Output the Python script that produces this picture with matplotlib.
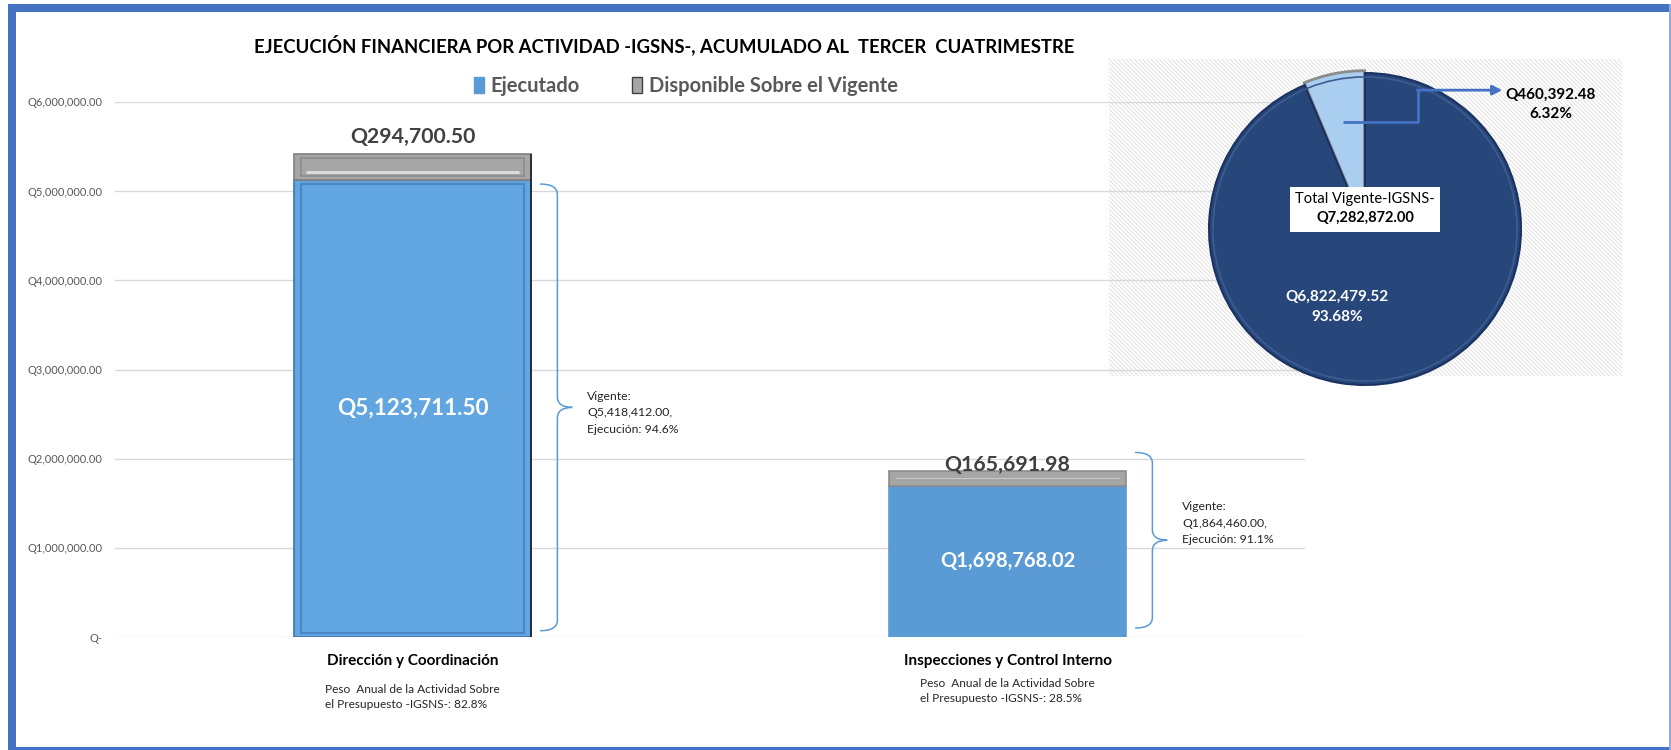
import matplotlib
matplotlib.use('Agg')
import matplotlib.pyplot as plt
import matplotlib.patches as mpatches
from matplotlib.path import Path
from matplotlib.ticker import FuncFormatter
import matplotlib.transforms as mtransforms
import numpy as np

plt.rcParams['font.family'] = ['Lato', 'DejaVu Sans']
plt.rcParams['hatch.linewidth'] = 0.5

# data
categories = ['Dirección y Coordinación', 'Inspecciones y Control Interno']
ejecutado = [5123711.50, 1698768.02]
disponible = [294700.50, 165691.98]
peso_anual = ['82.8%', '28.5%']
y_ticks = [0, 1e6, 2e6, 3e6, 4e6, 5e6, 6e6]
# extent of the braces next to each bar, as drawn in the original
brace_top = [5.08e6, 2.07e6]
brace_bottom = [0.07e6, 0.10e6]

vigente = np.array(ejecutado) + np.array(disponible)
pie_values = [sum(disponible), sum(ejecutado)]
total_vigente = sum(pie_values)

W, H = 1671, 750
fig = plt.figure(figsize=(W / 100, H / 100), dpi=100)
fig.patch.set_facecolor('white')


def fx(px):
    return px / W


def fy(py):
    return 1 - py / H


def money(v):
    return 'Q{:,.2f}'.format(v)


# blue frame around the whole chart
blue = '#4472C4'
fig.add_artist(mpatches.Rectangle((fx(8), 0), fx(16) - fx(8), fy(4), transform=fig.transFigure,
                                  facecolor=blue, lw=0))
fig.add_artist(mpatches.Rectangle((fx(8), fy(12)), 1 - fx(8), fy(4) - fy(12), transform=fig.transFigure,
                                  facecolor=blue, lw=0))
fig.add_artist(mpatches.Rectangle((fx(8), 0), 1 - fx(8), fy(747), transform=fig.transFigure,
                                  facecolor=blue, lw=0))
fig.add_artist(mpatches.Rectangle((fx(1669), 0), 1 - fx(1669), fy(4), transform=fig.transFigure,
                                  facecolor='#8EA9DB', lw=0))

# ---- bar chart ----
ax = fig.add_axes([fx(115), fy(637), fx(1305) - fx(115), fy(102) - fy(637)])
ax.set_facecolor('none')
x = np.arange(len(categories))
bw = 0.397

bars_e = ax.bar(x, ejecutado, bw, color=['#62A6E1', '#5B9BD5'],
                edgecolor=['#3E74AE', '#5B9BD5'], linewidth=1.2, zorder=3)
bars_d = ax.bar(x, disponible, bw, bottom=ejecutado, color='#A6A6A6',
                edgecolor=['#7F7F7F', '#8C8C8C'], linewidth=1.2, zorder=3)

# bevel look on the first bar
ax.bar(x[0], ejecutado[0] - 0.08e6, bw * 0.94, bottom=0.04e6, fill=False,
       edgecolor='#4A86C4', linewidth=1.5, zorder=4)
ax.bar(x[0], disponible[0] - 0.09e6, bw * 0.94, bottom=ejecutado[0] + 0.045e6, fill=False,
       edgecolor='#8C8C8C', linewidth=1.2, zorder=4)
ax.hlines(ejecutado[0] + 0.09e6, x[0] - bw * 0.45, x[0] + bw * 0.45, color='#E0E0E0', lw=2, zorder=5)
ax.vlines(x[0] + bw / 2, 0, vigente[0], color='#1F1F1F', lw=1.2, zorder=5)
ax.hlines(ejecutado[1] + disponible[1] / 2, x[1] - bw * 0.47, x[1] + bw * 0.47, color='#C9C9C9', lw=0.8, zorder=5)

ax.set_xlim(-0.5, 1.5)
ax.set_ylim(0, 6e6)
ax.set_yticks(y_ticks)
ax.yaxis.set_major_formatter(FuncFormatter(lambda v, p: 'Q-' if v == 0 else money(v)))
ax.grid(axis='y', color='#D9D9D9', lw=1, zorder=0)
for s in ax.spines.values():
    s.set_visible(False)
ax.tick_params(axis='y', length=0, pad=9, labelsize=8, labelcolor='#595959')
ax.set_xticks(x)
ax.set_xticklabels(categories, fontsize=11, fontweight='bold', color='black')
ax.tick_params(axis='x', length=0, pad=12)

# value labels
inner_sizes = [16.2, 14.5]
for i in range(len(categories)):
    ax.text(x[i], ejecutado[i] / 2, money(ejecutado[i]), ha='center', va='center',
            color='white', fontsize=inner_sizes[i], fontweight='bold', zorder=6)
    ax.annotate(money(disponible[i]), (x[i], vigente[i]), xytext=(0, [5, -3][i]),
                textcoords='offset points', ha='center', va='bottom',
                color='#404040', fontsize=15.3, fontweight='bold', zorder=6)

# braces with vigente / ejecucion text
text_dy = [-0.06e6, 0.19e6]
for i in range(len(categories)):
    edge = x[i] + bw / 2
    xe, xv, xt = edge + 0.016, edge + 0.045, edge + 0.07
    top, bot = brace_top[i], brace_bottom[i]
    mid = (top + bot) / 2
    d = 0.12e6
    verts = [(xe, top), (xv, top), (xv, top - d),
             (xv, mid + d), (xv, mid), (xt, mid),
             (xv, mid), (xv, mid - d),
             (xv, bot + d), (xv, bot), (xe, bot)]
    codes = [Path.MOVETO, Path.CURVE3, Path.CURVE3,
             Path.LINETO, Path.CURVE3, Path.CURVE3,
             Path.CURVE3, Path.CURVE3,
             Path.LINETO, Path.CURVE3, Path.CURVE3]
    ax.add_patch(mpatches.PathPatch(Path(verts, codes), fill=False, edgecolor='#5B9BD5', lw=1.1, zorder=3))
    pct = ejecutado[i] / vigente[i] * 100
    ax.text(edge + 0.095, mid + text_dy[i], 'Vigente:\n{},\nEjecución: {:.1f}%'.format(money(vigente[i]), pct),
            ha='left', va='center', fontsize=8.8, color='#262626', linespacing=1.6)

# peso anual text under the category names
trans = mtransforms.blended_transform_factory(ax.transData, fig.transFigure)
for i, py in enumerate([697, 691]):
    ax.text(x[i], fy(py), 'Peso  Anual de la Actividad Sobre\nel Presupuesto -IGSNS-: {}'.format(peso_anual[i]),
            transform=trans, ha='center', va='center', multialignment='left',
            fontsize=8.6, color='#262626', linespacing=1.55)

# title and legend
fig.text(fx(664), fy(45), 'EJECUCIÓN FINANCIERA POR ACTIVIDAD -IGSNS-, ACUMULADO AL  TERCER  CUATRIMESTRE',
         ha='center', va='center', fontsize=13.3, fontweight='bold', color='black')
handles = [mpatches.Patch(facecolor='#5B9BD5', edgecolor='#5B9BD5'),
           mpatches.Patch(facecolor='#A6A6A6', edgecolor='#404040')]
leg = fig.legend(handles, ['Ejecutado', 'Disponible Sobre el Vigente'], loc='center',
                 bbox_to_anchor=(fx(686), fy(86)), ncol=2, frameon=False,
                 handlelength=0.5, handleheight=0.9, handletextpad=0.35, columnspacing=2.6,
                 prop={'size': 14.5, 'weight': 'bold'})
for t in leg.get_texts():
    t.set_color('#595959')

# ---- pie chart ----
fig.add_artist(mpatches.Rectangle((fx(1109), fy(376)), fx(1622) - fx(1109), fy(59) - fy(376),
                                  transform=fig.transFigure, facecolor='white', edgecolor='#D6D6D6',
                                  hatch='\\\\\\\\\\\\\\\\', lw=0, zorder=0))
cx, cy, r = 1365, 229, 156
half = r * 1.05
ax2 = fig.add_axes([fx(cx - half), fy(cy + half), 2 * half / W, 2 * half / H])
ax2.set_facecolor('none')
wedges, _ = ax2.pie(pie_values, colors=['#A9CEF0', '#27467A'], startangle=90, counterclock=True,
                    explode=[0.015, 0], wedgeprops=dict(linewidth=1.5))
wedges[0].set_edgecolor('#8C8C8C')
wedges[0].set_linewidth(2)
wedges[1].set_edgecolor('#1B3260')
ax2.add_patch(mpatches.Circle((0, 0), 0.975, fill=False, edgecolor='#3D5C91', lw=1.2))
ax2.set_xlim(-1.05, 1.05)
ax2.set_ylim(-1.05, 1.05)
ax2.set_aspect('equal')
ax2.axis('off')

pcts = [v / total_vigente * 100 for v in pie_values]
ang = np.deg2rad(90 + pcts[0] * 3.6 / 2)
sx, sy = 0.7 * np.cos(ang), 0.7 * np.sin(ang)
ax2.plot([sx, 0.34, 0.34], [sy, sy, 0.89], color=blue, lw=2, solid_capstyle='butt')
ax2.annotate('', xy=(0.88, 0.89), xytext=(0.335, 0.89),
             arrowprops=dict(arrowstyle='-|>', color=blue, lw=2, mutation_scale=14, shrinkA=0, shrinkB=0))
ax2.text(1.19, 0.80, '{}\n{:.2f}%'.format(money(pie_values[0]), pcts[0]), ha='center', va='center',
         fontsize=11, fontweight='bold', color='black', linespacing=1.5)
ax2.text(-0.18, -0.50, '{}\n{:.2f}%'.format(money(pie_values[1]), pcts[1]), ha='center', va='center',
         fontsize=11, fontweight='bold', color='white', linespacing=1.5)
ax2.add_patch(mpatches.Rectangle((-0.48, -0.02), 0.96, 0.29, facecolor='white', edgecolor='none', zorder=5))
ax2.text(0, 0.19, 'Total Vigente-IGSNS-', ha='center', va='center', fontsize=10.5, color='black', zorder=6)
ax2.text(0, 0.07, money(total_vigente), ha='center', va='center', fontsize=10.5,
         fontweight='bold', color='black', zorder=6)

fig.savefig('out.png', dpi=100)
